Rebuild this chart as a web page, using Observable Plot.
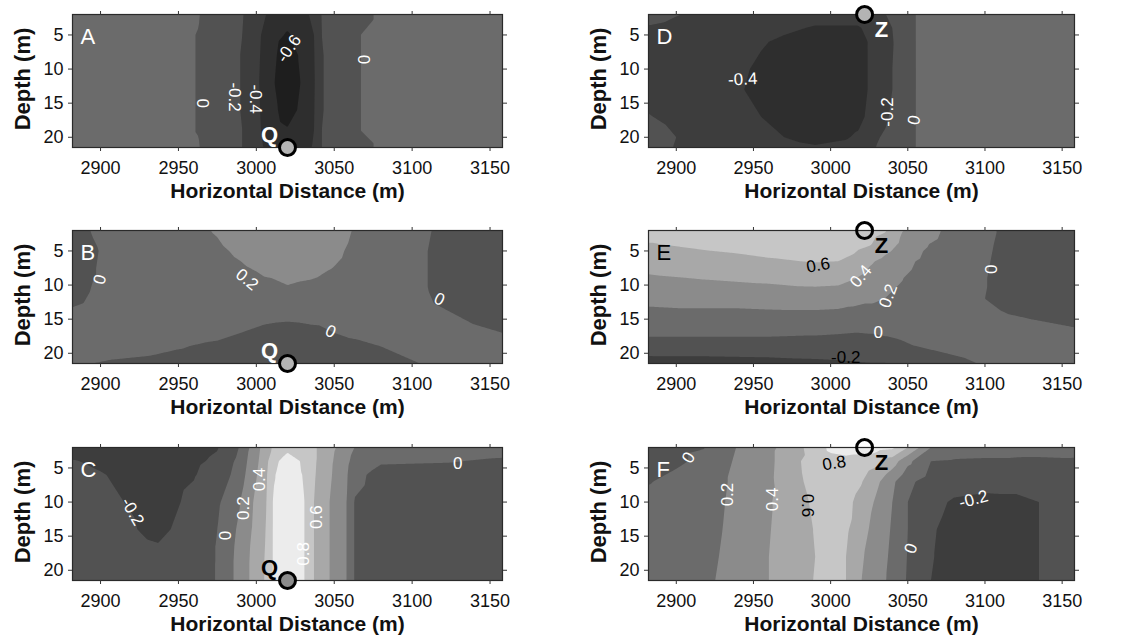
<!DOCTYPE html>
<html><head><meta charset="utf-8">
<script src="https://cdn.jsdelivr.net/npm/d3@7"></script>
<script src="https://cdn.jsdelivr.net/npm/@observablehq/plot@0.6"></script>
<style>
body{margin:0;background:#fff;width:1125px;height:641px;overflow:hidden;position:relative;font-family:"Liberation Sans",Arial,sans-serif}
.panel{position:absolute}
</style></head><body>
<script>
// ---- shared axes ----
const xTicks = [2900, 2950, 3000, 3050, 3100, 3150];
const depthTicks = [5, 10, 15, 20];
const xDomain = [2882, 3158];
const depthDomain = [2, 21.5];
const thresholds = [-1, -0.6, -0.4, -0.2, 0, 0.2, 0.4, 0.6, 0.8];
const grays = ["#1e1e1e","#2e2e2e","#3d3d3d","#525252","#6b6b6b","#8b8b8b","#a8a8a8","#c6c6c6","#ececec"];

// ---- Panel A ----
const A_x = [2882, 2940, 2963, 2991, 3003, 3012, 3020, 3028, 3037, 3042, 3067, 3100, 3158];
const A_depth = [2, 5, 8, 12, 16, 19, 21.5];
const A_values = [
  [0.06, 0.03, 0.005, -0.19, -0.36, -0.47, -0.52, -0.47, -0.36, -0.19, -0.01, 0.03, 0.06],
  [0.06, 0.03, -0.003, -0.2, -0.4, -0.55, -0.62, -0.55, -0.4, -0.2, 0.0, 0.03, 0.06],
  [0.06, 0.03, -0.003, -0.21, -0.41, -0.58, -0.72, -0.58, -0.41, -0.21, 0.0, 0.03, 0.06],
  [0.06, 0.03, -0.003, -0.21, -0.42, -0.605, -0.72, -0.605, -0.42, -0.21, 0.0, 0.03, 0.06],
  [0.06, 0.03, -0.003, -0.21, -0.41, -0.57, -0.7, -0.57, -0.41, -0.21, 0.0, 0.03, 0.06],
  [0.06, 0.03, -0.003, -0.2, -0.4, -0.53, -0.58, -0.53, -0.4, -0.2, 0.0, 0.03, 0.06],
  [0.06, 0.03, 0.005, -0.2, -0.38, -0.49, -0.53, -0.49, -0.38, -0.2, -0.01, 0.03, 0.06]
];
const A_labelsWhite = [
  {x: 3021, y: 7.0, t: "-0.6", r: -55}, {x: 2999.5, y: 14.4, t: "-0.4", r: 90},
  {x: 2986, y: 14.1, t: "-0.2", r: 90}, {x: 2965.5, y: 15, t: "0", r: 90},
  {x: 3068.5, y: 8.6, t: "0", r: 90}
];

// ---- Panel B ----
const B_x = [2882, 2895, 2910, 2950, 2975, 2990, 3005, 3020, 3035, 3050, 3065, 3080, 3105, 3125, 3158];
const B_depth = [2, 5, 8, 11, 14, 17, 19, 21.5];
const B_values = [
  [-0.08, 0.01, 0.08, 0.15, 0.21, 0.26, 0.3, 0.31, 0.3, 0.26, 0.18, 0.12, 0.03, -0.05, -0.1],
  [-0.1, -0.02, 0.06, 0.13, 0.18, 0.22, 0.26, 0.28, 0.27, 0.23, 0.16, 0.1, 0.02, -0.06, -0.12],
  [-0.1, -0.01, 0.06, 0.12, 0.15, 0.18, 0.21, 0.24, 0.22, 0.19, 0.14, 0.09, 0.02, -0.06, -0.12],
  [-0.06, 0.01, 0.06, 0.11, 0.13, 0.15, 0.17, 0.18, 0.17, 0.15, 0.12, 0.08, 0.02, -0.05, -0.1],
  [0.02, 0.05, 0.08, 0.09, 0.09, 0.08, 0.06, 0.05, 0.06, 0.07, 0.08, 0.08, 0.04, 0.0, -0.04],
  [0.05, 0.07, 0.08, 0.07, 0.04, 0.0, -0.04, -0.06, -0.04, 0.0, 0.03, 0.06, 0.06, 0.03, 0.0],
  [0.06, 0.07, 0.06, 0.01, -0.03, -0.05, -0.07, -0.08, -0.07, -0.05, -0.03, 0.0, 0.04, 0.05, 0.05],
  [0.03, 0.0, -0.02, -0.05, -0.07, -0.08, -0.09, -0.1, -0.09, -0.08, -0.06, -0.04, 0.0, 0.03, 0.05]
];
const B_labelsWhite = [
  {x: 2899.6, y: 9.2, t: "0", r: -75}, {x: 2994, y: 9.2, t: "0.2", r: 40},
  {x: 3117.5, y: 12.1, t: "0", r: 25}, {x: 3047.6, y: 16.8, t: "0", r: 25}
];

// ---- Panel C ----
const C_x = [2882, 2900, 2915, 2930, 2937, 2945, 2960, 2975, 2987, 2998, 3006, 3011, 3020, 3031, 3037, 3047, 3058, 3063, 3080, 3120, 3158];
const C_depth = [2, 4, 6, 10, 14, 16.5, 19, 21.5];
const C_values = [
  [-0.3, -0.3, -0.3, -0.3, -0.3, -0.29, -0.26, -0.21, -0.05, 0.27, 0.5, 0.63, 0.75, 0.68, 0.63, 0.46, 0.3, 0.2, 0.12, 0.08, 0.06],
  [-0.19, -0.23, -0.26, -0.27, -0.27, -0.26, -0.23, -0.17, 0.02, 0.3, 0.53, 0.75, 0.88, 0.77, 0.63, 0.44, 0.25, 0.12, 0.02, 0.01, -0.02],
  [-0.15, -0.19, -0.23, -0.26, -0.27, -0.25, -0.21, -0.12, 0.05, 0.33, 0.56, 0.78, 0.92, 0.78, 0.62, 0.43, 0.22, 0.05, -0.06, -0.07, -0.08],
  [-0.12, -0.15, -0.2, -0.25, -0.26, -0.23, -0.16, -0.03, 0.14, 0.4, 0.58, 0.82, 0.93, 0.8, 0.6, 0.4, 0.2, -0.01, -0.08, -0.1, -0.1],
  [-0.1, -0.13, -0.16, -0.23, -0.24, -0.2, -0.12, 0.0, 0.2, 0.42, 0.6, 0.82, 0.93, 0.8, 0.6, 0.4, 0.2, -0.01, -0.08, -0.1, -0.1],
  [-0.1, -0.12, -0.14, -0.18, -0.19, -0.17, -0.1, 0.01, 0.22, 0.44, 0.61, 0.82, 0.93, 0.8, 0.6, 0.4, 0.2, -0.01, -0.08, -0.1, -0.1],
  [-0.1, -0.11, -0.12, -0.14, -0.15, -0.14, -0.09, 0.01, 0.23, 0.45, 0.62, 0.82, 0.93, 0.8, 0.6, 0.4, 0.2, -0.01, -0.08, -0.1, -0.1],
  [-0.1, -0.11, -0.12, -0.14, -0.15, -0.14, -0.09, 0.01, 0.23, 0.45, 0.62, 0.82, 0.93, 0.8, 0.6, 0.4, 0.2, -0.01, -0.08, -0.1, -0.1]
];
const C_labelsWhite = [
  {x: 2920.5, y: 11.4, t: "-0.2", r: 60}, {x: 2980, y: 14.9, t: "0", r: -90},
  {x: 2992, y: 10.9, t: "0.2", r: -90}, {x: 3002, y: 6.7, t: "0.4", r: -90},
  {x: 3038.5, y: 12.2, t: "0.6", r: -90}, {x: 3030, y: 17.6, t: "0.8", r: -90},
  {x: 3129.3, y: 4.3, t: "0", r: 0}
];

// ---- Panel D ----
const D_x = [2882, 2900, 2920, 2944, 2955, 2970, 2990, 3010, 3018, 3024, 3030, 3040, 3050, 3055, 3070, 3110, 3158];
const D_depth = [2, 4, 6, 10, 13, 17, 20, 21.5];
const D_values = [
  [-0.12, -0.19, -0.25, -0.3, -0.32, -0.34, -0.36, -0.36, -0.35, -0.32, -0.27, -0.15, -0.05, 0.0, 0.05, 0.06, 0.06],
  [-0.22, -0.26, -0.3, -0.33, -0.35, -0.38, -0.41, -0.41, -0.41, -0.38, -0.3, -0.2, -0.06, 0.0, 0.05, 0.06, 0.06],
  [-0.26, -0.3, -0.33, -0.37, -0.39, -0.42, -0.45, -0.46, -0.45, -0.4, -0.32, -0.21, -0.07, 0.0, 0.05, 0.06, 0.06],
  [-0.28, -0.31, -0.35, -0.39, -0.42, -0.45, -0.47, -0.47, -0.46, -0.4, -0.33, -0.2, -0.08, 0.0, 0.05, 0.06, 0.06],
  [-0.27, -0.3, -0.35, -0.4, -0.43, -0.46, -0.47, -0.47, -0.46, -0.4, -0.33, -0.2, -0.08, 0.0, 0.05, 0.06, 0.06],
  [-0.19, -0.25, -0.32, -0.38, -0.4, -0.44, -0.46, -0.46, -0.44, -0.38, -0.3, -0.17, -0.07, 0.0, 0.05, 0.06, 0.06],
  [-0.12, -0.2, -0.28, -0.34, -0.37, -0.4, -0.43, -0.41, -0.38, -0.32, -0.22, -0.12, -0.05, 0.0, 0.05, 0.06, 0.06],
  [-0.1, -0.21, -0.26, -0.32, -0.35, -0.37, -0.39, -0.37, -0.34, -0.28, -0.19, -0.1, -0.04, 0.0, 0.05, 0.06, 0.06]
];
const D_labelsWhite = [
  {x: 2943, y: 11.5, t: "-0.4", r: -3}, {x: 3037, y: 16.3, t: "-0.2", r: -90},
  {x: 3054.2, y: 17.5, t: "0", r: -80}
];

// ---- Panel E ----
const E_x = [2882, 2920, 2960, 2990, 3005, 3015, 3025, 3035, 3045, 3060, 3075, 3095, 3110, 3130, 3158];
const E_depth = [2, 4, 6.5, 9, 12, 15, 18, 20, 21.5];
const E_values = [
  [0.68, 0.7, 0.72, 0.73, 0.73, 0.72, 0.68, 0.62, 0.42, 0.3, 0.17, 0.05, -0.01, -0.06, -0.08],
  [0.59, 0.64, 0.68, 0.7, 0.7, 0.68, 0.62, 0.5, 0.38, 0.22, 0.14, 0.05, -0.02, -0.08, -0.1],
  [0.48, 0.53, 0.58, 0.61, 0.6, 0.54, 0.43, 0.35, 0.26, 0.17, 0.11, 0.04, -0.03, -0.09, -0.12],
  [0.375, 0.41, 0.44, 0.47, 0.46, 0.41, 0.34, 0.27, 0.21, 0.14, 0.09, 0.03, -0.04, -0.1, -0.13],
  [0.25, 0.27, 0.29, 0.3, 0.29, 0.26, 0.23, 0.2, 0.17, 0.12, 0.08, 0.02, -0.04, -0.09, -0.12],
  [0.12, 0.12, 0.12, 0.12, 0.11, 0.1, 0.1, 0.1, 0.1, 0.09, 0.07, 0.05, 0.03, 0.0, -0.02],
  [-0.02, -0.02, -0.02, -0.03, -0.04, -0.05, -0.04, -0.02, 0.0, 0.03, 0.05, 0.06, 0.06, 0.05, 0.03],
  [-0.17, -0.17, -0.16, -0.15, -0.14, -0.13, -0.1, -0.07, -0.04, -0.02, 0.0, 0.03, 0.05, 0.05, 0.04],
  [-0.28, -0.27, -0.26, -0.24, -0.23, -0.22, -0.21, -0.21, -0.19, -0.1, -0.04, 0.0, 0.03, 0.04, 0.04]
];
const E_labelsWhite = [
  {x: 3019.6, y: 8.7, t: "0.4", r: -50}, {x: 3037.3, y: 11.6, t: "0.2", r: -70},
  {x: 3030.9, y: 16.9, t: "0", r: 0}, {x: 3104.5, y: 7.7, t: "0", r: -90}
];
const E_labelsBlack = [
  {x: 2991.9, y: 7.1, t: "0.6", r: -10}, {x: 3009.8, y: 20.7, t: "-0.2", r: 0}
];

// ---- Panel F ----
const F_x = [2882, 2900, 2918, 2930, 2945, 2960, 2975, 2990, 3000, 3010, 3020, 3030, 3040, 3050, 3065, 3080, 3100, 3120, 3135, 3158];
const F_depth = [2, 4, 7, 10, 14, 18, 21.5];
const F_values = [
  [-0.06, -0.03, -0.005, 0.13, 0.25, 0.35, 0.5, 0.7, 0.84, 0.86, 0.87, 0.87, 0.84, 0.6, 0.2, 0.12, 0.1, 0.08, 0.07, 0.06],
  [-0.09, -0.03, 0.04, 0.15, 0.27, 0.35, 0.55, 0.68, 0.74, 0.76, 0.74, 0.66, 0.5, 0.25, 0.0, -0.02, -0.03, -0.03, -0.03, -0.02],
  [-0.01, 0.05, 0.12, 0.18, 0.27, 0.36, 0.54, 0.66, 0.7, 0.68, 0.61, 0.44, 0.24, 0.04, -0.08, -0.13, -0.15, -0.14, -0.12, -0.08],
  [0.05, 0.09, 0.14, 0.19, 0.28, 0.38, 0.52, 0.63, 0.67, 0.64, 0.55, 0.36, 0.2, 0.0, -0.15, -0.22, -0.24, -0.24, -0.2, -0.12],
  [0.08, 0.11, 0.15, 0.2, 0.29, 0.39, 0.5, 0.61, 0.66, 0.63, 0.47, 0.32, 0.18, 0.0, -0.18, -0.26, -0.28, -0.27, -0.2, -0.12],
  [0.09, 0.12, 0.16, 0.21, 0.3, 0.4, 0.5, 0.6, 0.66, 0.6, 0.42, 0.3, 0.16, -0.01, -0.19, -0.26, -0.28, -0.27, -0.2, -0.12],
  [0.1, 0.13, 0.17, 0.22, 0.3, 0.4, 0.5, 0.61, 0.66, 0.6, 0.4, 0.29, 0.14, -0.02, -0.2, -0.26, -0.28, -0.27, -0.2, -0.12]
];
const F_labelsWhite = [
  {x: 2908, y: 3.5, t: "0", r: -60}, {x: 2933, y: 8.9, t: "0.2", r: -90},
  {x: 2962.6, y: 9.6, t: "0.4", r: -90}, {x: 3092.6, y: 9.6, t: "-0.2", r: -15},
  {x: 3052, y: 16.8, t: "0", r: -70}
];
const F_labelsBlack = [
  {x: 2985, y: 10.5, t: "0.6", r: 90}, {x: 3002.3, y: 4.3, t: "0.8", r: -10}
];

// ---- markers ----
const pointQ = [{x: 3020, y: 21.5}];
const pointZ = [{x: 3022, y: 2}];
const labelQ = [{x: 3008.5, y: 19.6, t: "Q"}];
const labelZ = [{x: 3033, y: 4.3, t: "Z"}];

const FONT = '"Liberation Sans", Arial, sans-serif';
const bandBreaks = d3.pairs(thresholds).map(([a, b]) => (a + b) / 2);

function gridPoints(xs, ys, vals) {
  return ys.flatMap((y, j) => xs.map((x, i) => ({x, y, v: vals[j][i]})));
}

function makePanel(cfg) {
  const data = gridPoints(cfg.xs, cfg.ys, cfg.vals);
  const svg = Plot.plot({
    width: cfg.w, height: 210,
    marginLeft: cfg.ml, marginRight: cfg.mr, marginTop: 14, marginBottom: 63,
    style: {fontFamily: FONT, fontSize: "18px", color: "#111", background: "transparent", overflow: "visible"},
    x: {domain: xDomain},
    y: {domain: depthDomain, reverse: true},
    color: {type: "threshold", domain: bandBreaks, range: grays},
    marks: [
      Plot.contour(data, {x: "x", y: "y", fill: "v", thresholds, interpolate: "barycentric", pixelSize: 1}),
      Plot.frame({stroke: "#2a2a2a", strokeWidth: 1.2}),
      Plot.axisX({anchor: "bottom", ticks: xTicks, tickFormat: d => String(d), tickSize: 4, tickPadding: 10, label: null, fontSize: 18, stroke: "#333"}),
      Plot.axisX({anchor: "top", ticks: xTicks, tickSize: 4, tickFormat: () => "", label: null, stroke: "#333"}),
      Plot.axisY({anchor: "left", ticks: depthTicks, tickFormat: d => String(d), tickSize: 4, tickPadding: 5, label: null, fontSize: 18, stroke: "#333"}),
      Plot.axisY({anchor: "right", ticks: depthTicks, tickSize: 4, tickFormat: () => "", label: null, stroke: "#333"}),
      Plot.text(cfg.white, {x: "x", y: "y", text: "t", rotate: "r", fill: "white", fontSize: 17}),
      Plot.text(cfg.black || [], {x: "x", y: "y", text: "t", rotate: "r", fill: "black", fontSize: 17}),
      Plot.text([cfg.letter], {frameAnchor: "top-left", dx: 8, dy: 14, lineAnchor: "top", textAnchor: "start", fontSize: 22, fill: cfg.letterColor}),
      Plot.dot(cfg.point, {x: "x", y: "y", r: 8, fill: cfg.pointFill, stroke: "black", strokeWidth: 3}),
      Plot.text(cfg.pLabel, {x: "x", y: "y", text: "t", fontSize: 22, fontWeight: "bold", fill: cfg.pLabelColor}),
      Plot.text(["Horizontal Distance (m)"], {frameAnchor: "bottom", lineAnchor: "middle", textAnchor: "middle", dy: 44, fontSize: 21, fontWeight: "bold", fill: "#111"}),
      Plot.text(["Depth (m)"], {frameAnchor: "left", lineAnchor: "middle", textAnchor: "middle", dx: -50, dy: -2, rotate: -90, fontSize: 22, fontWeight: "bold", fill: "#111"})
    ]
  });
  const div = document.createElement("div");
  div.className = "panel";
  div.style.left = cfg.left + "px";
  div.style.top = cfg.top + "px";
  div.appendChild(svg);
  document.body.appendChild(div);
}

const leftCol = {left: 0, w: 560, ml: 72, mr: 58};
const rightCol = {left: 560, w: 565, ml: 88, mr: 51};

makePanel({...leftCol, top: 0, xs: A_x, ys: A_depth, vals: A_values, white: A_labelsWhite, letter: "A", letterColor: "white", point: pointQ, pointFill: "#b4b4b4", pLabel: labelQ, pLabelColor: "white"});
makePanel({...leftCol, top: 216, xs: B_x, ys: B_depth, vals: B_values, white: B_labelsWhite, letter: "B", letterColor: "white", point: pointQ, pointFill: "#b4b4b4", pLabel: labelQ, pLabelColor: "white"});
makePanel({...leftCol, top: 433, xs: C_x, ys: C_depth, vals: C_values, white: C_labelsWhite, letter: "C", letterColor: "white", point: pointQ, pointFill: "#8c8c8c", pLabel: labelQ, pLabelColor: "black"});
makePanel({...rightCol, top: 0, xs: D_x, ys: D_depth, vals: D_values, white: D_labelsWhite, letter: "D", letterColor: "white", point: pointZ, pointFill: "#b4b4b4", pLabel: labelZ, pLabelColor: "white"});
makePanel({...rightCol, top: 216, xs: E_x, ys: E_depth, vals: E_values, white: E_labelsWhite, black: E_labelsBlack, letter: "E", letterColor: "black", point: pointZ, pointFill: "none", pLabel: labelZ, pLabelColor: "black"});
makePanel({...rightCol, top: 433, xs: F_x, ys: F_depth, vals: F_values, white: F_labelsWhite, black: F_labelsBlack, letter: "F", letterColor: "white", point: pointZ, pointFill: "none", pLabel: labelZ, pLabelColor: "black"});
</script>
</body></html>
